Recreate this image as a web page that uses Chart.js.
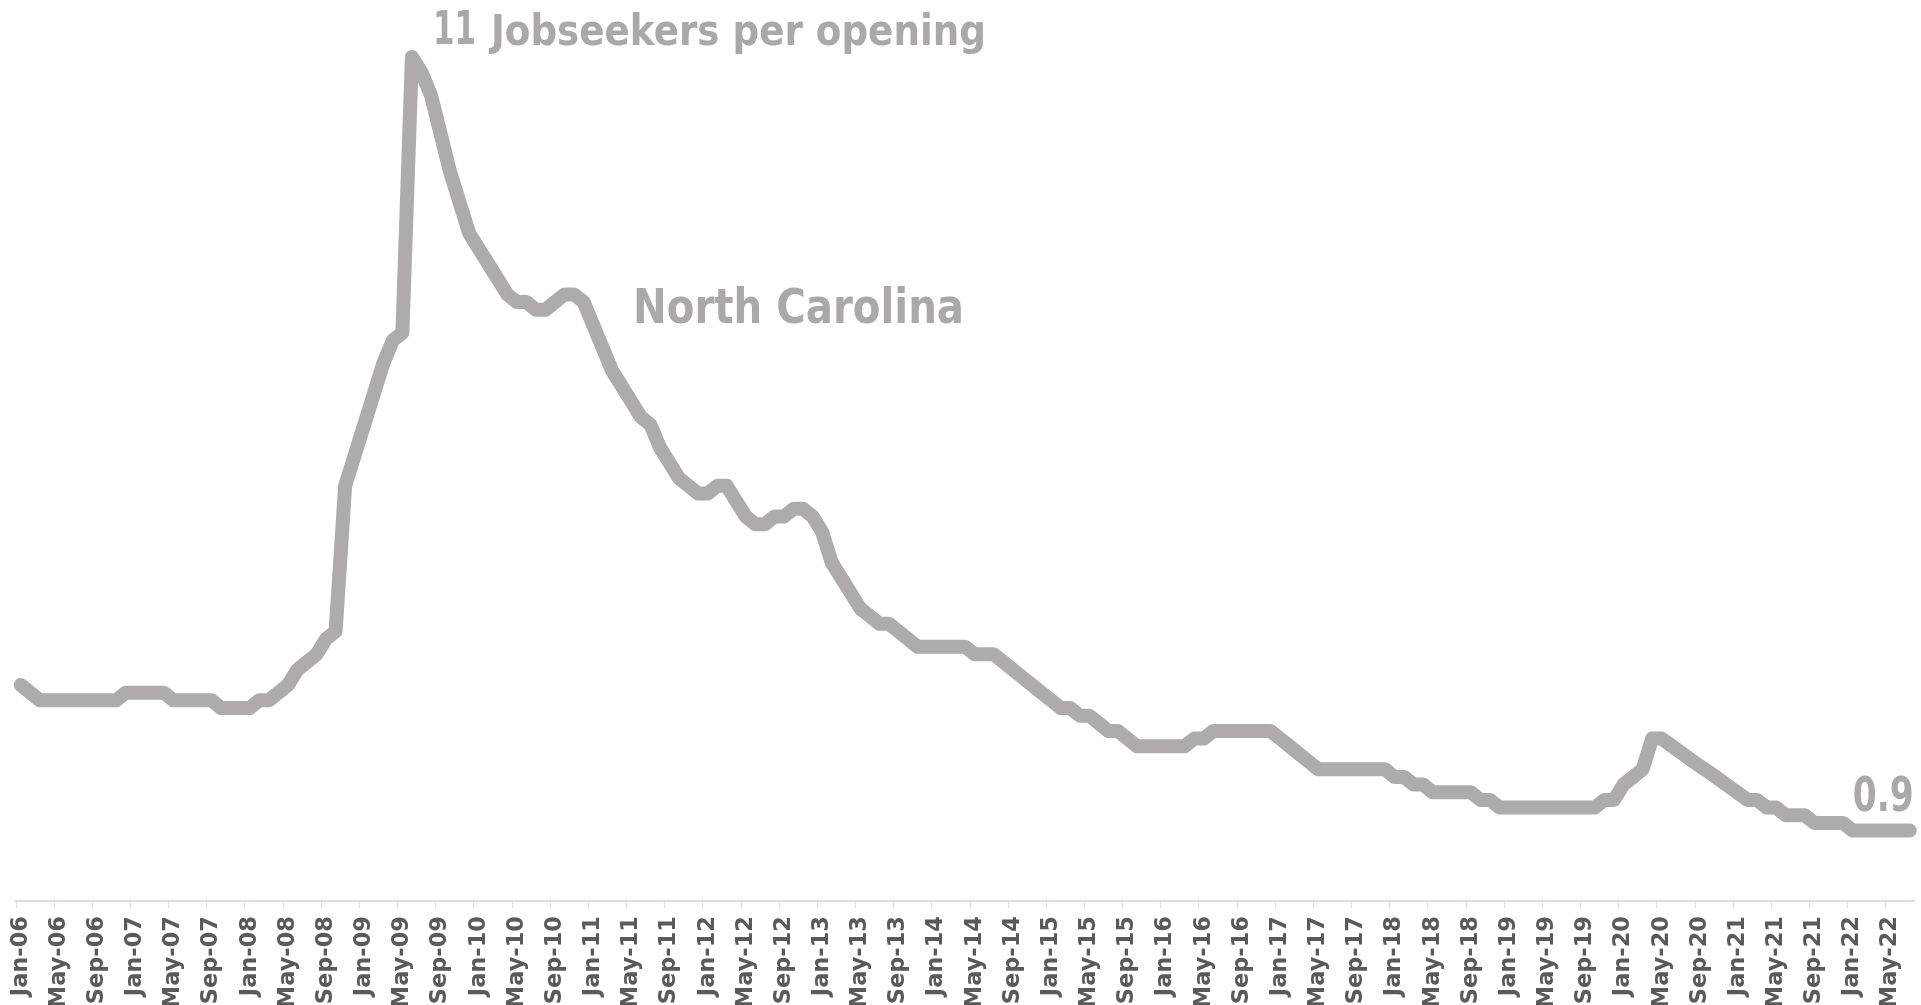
<!DOCTYPE html>
<html>
<head>
<meta charset="utf-8">
<title>Jobseekers per opening - North Carolina</title>
<script src="https://cdn.jsdelivr.net/npm/chart.js@4.4.1/dist/chart.umd.min.js"></script>
<style>
    html, body { margin: 0; padding: 0; background: #ffffff; overflow: hidden; }
    canvas { display: block; }
</style>
</head>
<body>
<canvas id="jobsChart" width="1921" height="1005"></canvas>
<script>
// Month names used to build the category labels (Jan-06 ... Jul-22)
const monthNames = ['Jan', 'Feb', 'Mar', 'Apr', 'May', 'Jun', 'Jul', 'Aug', 'Sep', 'Oct', 'Nov', 'Dec'];
const firstYear = 2006;
const lastYear = 2022;
const lastMonth = 6; // Jul

// Jobseekers per job opening, North Carolina, one array per year
const nc2006 = [2.8, 2.7, 2.6, 2.6, 2.6, 2.6, 2.6, 2.6, 2.6, 2.6, 2.6, 2.7];
const nc2007 = [2.7, 2.7, 2.7, 2.7, 2.6, 2.6, 2.6, 2.6, 2.6, 2.5, 2.5, 2.5];
const nc2008 = [2.5, 2.6, 2.6, 2.7, 2.8, 3.0, 3.1, 3.2, 3.4, 3.5, 5.4, 5.8];
const nc2009 = [6.2, 6.6, 7.0, 7.3, 7.4, 11.0, 10.8, 10.5, 10.0, 9.5, 9.1, 8.7];
const nc2010 = [8.5, 8.3, 8.1, 7.9, 7.8, 7.8, 7.7, 7.7, 7.8, 7.9, 7.9, 7.8];
const nc2011 = [7.5, 7.2, 6.9, 6.7, 6.5, 6.3, 6.2, 5.9, 5.7, 5.5, 5.4, 5.3];
const nc2012 = [5.3, 5.4, 5.4, 5.2, 5.0, 4.9, 4.9, 5.0, 5.0, 5.1, 5.1, 5.0];
const nc2013 = [4.8, 4.4, 4.2, 4.0, 3.8, 3.7, 3.6, 3.6, 3.5, 3.4, 3.3, 3.3];
const nc2014 = [3.3, 3.3, 3.3, 3.3, 3.2, 3.2, 3.2, 3.1, 3.0, 2.9, 2.8, 2.7];
const nc2015 = [2.6, 2.5, 2.5, 2.4, 2.4, 2.3, 2.2, 2.2, 2.1, 2.0, 2.0, 2.0];
const nc2016 = [2.0, 2.0, 2.0, 2.1, 2.1, 2.2, 2.2, 2.2, 2.2, 2.2, 2.2, 2.2];
const nc2017 = [2.1, 2.0, 1.9, 1.8, 1.7, 1.7, 1.7, 1.7, 1.7, 1.7, 1.7, 1.7];
const nc2018 = [1.6, 1.6, 1.5, 1.5, 1.4, 1.4, 1.4, 1.4, 1.4, 1.3, 1.3, 1.2];
const nc2019 = [1.2, 1.2, 1.2, 1.2, 1.2, 1.2, 1.2, 1.2, 1.2, 1.2, 1.3, 1.3];
const nc2020 = [1.5, 1.6, 1.7, 2.1, 2.1, 2.01, 1.92, 1.83, 1.74, 1.66, 1.57, 1.48];
const nc2021 = [1.39, 1.3, 1.3, 1.2, 1.2, 1.1, 1.1, 1.1, 1.0, 1.0, 1.0, 1.0];
const nc2022 = [0.9, 0.9, 0.9, 0.9, 0.9, 0.9, 0.9];

const ratios = [].concat(nc2006, nc2007, nc2008, nc2009, nc2010, nc2011, nc2012, nc2013,
    nc2014, nc2015, nc2016, nc2017, nc2018, nc2019, nc2020, nc2021, nc2022);

// Annotation texts
const peakText = '11';
const unitText = 'Jobseekers per opening';
const seriesText = 'North Carolina';
const lastText = '0.9';

// Build the month labels
const labels = [];
for (let y = firstYear; y <= lastYear; y++) {
    for (let m = 0; m < 12; m++) {
        if (y === lastYear && m > lastMonth) break;
        labels.push(monthNames[m] + '-' + String(y % 100).padStart(2, '0'));
    }
}

const lineGray = '#aeabaa';
const textGray = '#aba8a7';
const axisColor = '#dcdcf0';
const labelColor = '#5a5a5a';

// Draw bold text with a given cap height, squeezed/stretched to a given width
function drawFitted(ctx, text, x, baseline, capHeight, width) {
    const size = capHeight / 0.73;
    ctx.font = 'bold ' + size + 'px "DejaVu Sans"';
    const w = ctx.measureText(text).width;
    ctx.save();
    ctx.translate(x, baseline);
    ctx.scale(width / w, 1);
    ctx.textAlign = 'left';
    ctx.textBaseline = 'alphabetic';
    ctx.fillText(text, 0, 0);
    ctx.restore();
}

// Plugin for the text annotations next to the line
const annotationPlugin = {
    id: 'annotations',
    afterDatasetsDraw(chart) {
        const ctx = chart.ctx;
        const meta = chart.getDatasetMeta(0);
        const peakIndex = ratios.indexOf(Math.max(...ratios));
        const peak = meta.data[peakIndex];
        const last = meta.data[ratios.length - 1];

        ctx.save();
        ctx.fillStyle = textGray;
        drawFitted(ctx, peakText, peak.x + 21, peak.y - 13, 34, 43);
        drawFitted(ctx, unitText, peak.x + 79, peak.y - 12, 31, 495);
        drawFitted(ctx, seriesText, 633, 323, 35, 331);
        drawFitted(ctx, lastText, last.x - 57, last.y - 20, 35, 61);
        ctx.restore();
    }
};

const ctx = document.getElementById('jobsChart').getContext('2d');
new Chart(ctx, {
    type: 'line',
    data: {
        labels: labels,
        datasets: [{
            label: seriesText,
            data: ratios,
            borderColor: lineGray,
            borderWidth: 14,
            borderJoinStyle: 'round',
            borderCapStyle: 'round',
            pointRadius: 0,
            tension: 0,
            fill: false,
            clip: false
        }]
    },
    options: {
        responsive: false,
        animation: false,
        layout: {
            padding: { left: 16, right: 6.5, top: 11, bottom: 0 }
        },
        plugins: {
            legend: { display: false },
            tooltip: { enabled: false }
        },
        scales: {
            x: {
                type: 'category',
                offset: true,
                grid: {
                    offset: true,
                    drawOnChartArea: false,
                    drawTicks: true,
                    tickLength: 7,
                    tickWidth: 1,
                    tickColor: (c) => (c.index % 4 === 0 ? axisColor : 'rgba(0,0,0,0)')
                },
                border: { display: true, color: axisColor, width: 2 },
                ticks: {
                    autoSkip: false,
                    maxRotation: 90,
                    minRotation: 90,
                    padding: 8,
                    color: labelColor,
                    font: { family: 'DejaVu Sans', size: 22.5, weight: 'bold' },
                    callback: (value, index) => (index % 4 === 0 ? labels[index] : '')
                },
                afterFit: (scale) => {
                    scale.height = 104;
                    scale.paddingLeft = 0;
                    scale.paddingRight = 0;
                }
            },
            y: {
                display: false,
                min: -0.02,
                max: 11.6
            }
        }
    },
    plugins: [annotationPlugin]
});
</script>
</body>
</html>
